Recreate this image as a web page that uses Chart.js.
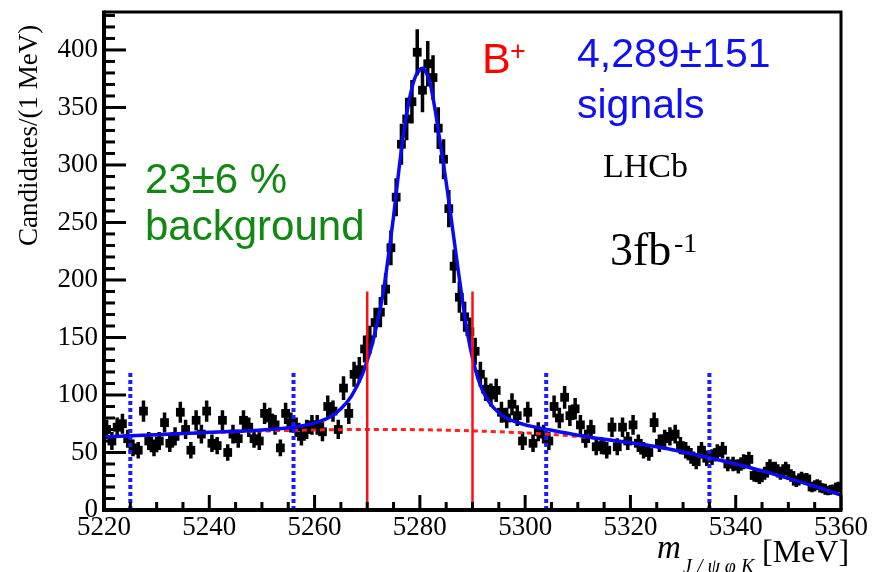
<!DOCTYPE html>
<html>
<head>
<meta charset="utf-8">
<script src="https://cdn.jsdelivr.net/npm/chart.js@4.4.1/dist/chart.umd.min.js"></script>
<style>
html,body{margin:0;padding:0;background:#fff;}
#wrap{width:873px;height:572px;position:relative;background:#fff;}
</style>
</head>
<body>
<div id="wrap"><canvas id="c" width="873" height="572"></canvas></div>
<script>
// ---- data ----
const massBins = [
5220.5,5221.5,5222.5,5223.5,5224.5,5225.5,5226.5,5227.5,5228.5,5229.5,
5230.5,5231.5,5232.5,5233.5,5234.5,5235.5,5236.5,5237.5,5238.5,5239.5,
5240.5,5241.5,5242.5,5243.5,5244.5,5245.5,5246.5,5247.5,5248.5,5249.5,
5250.5,5251.5,5252.5,5253.5,5254.5,5255.5,5256.5,5257.5,5258.5,5259.5,
5260.5,5261.5,5262.5,5263.5,5264.5,5265.5,5266.5,5267.5,5268.5,5269.5,
5270.5,5271.5,5272.5,5273.5,5274.5,5275.5,5276.5,5277.5,5278.5,5279.5,
5280.5,5281.5,5282.5,5283.5,5284.5,5285.5,5286.5,5287.5,5288.5,5289.5,
5290.5,5291.5,5292.5,5293.5,5294.5,5295.5,5296.5,5297.5,5298.5,5299.5,
5300.5,5301.5,5302.5,5303.5,5304.5,5305.5,5306.5,5307.5,5308.5,5309.5,
5310.5,5311.5,5312.5,5313.5,5314.5,5315.5,5316.5,5317.5,5318.5,5319.5,
5320.5,5321.5,5322.5,5323.5,5324.5,5325.5,5326.5,5327.5,5328.5,5329.5,
5330.5,5331.5,5332.5,5333.5,5334.5,5335.5,5336.5,5337.5,5338.5,5339.5,
5340.5,5341.5,5342.5,5343.5,5344.5,5345.5,5346.5,5347.5,5348.5,5349.5,
5350.5,5351.5,5352.5,5353.5,5354.5,5355.5,5356.5,5357.5,5358.5,5359.5];
const counts = [
70,60,72,75,62,54,52,86,60,54,
60,76,58,64,85,70,52,78,66,86,
58,56,78,50,66,62,78,72,62,60,
84,80,74,54,84,76,72,64,70,74,
74,68,90,86,70,106,84,118,122,140,
148,163,172,192,228,272,318,340,355,398,
365,388,376,332,305,262,212,185,168,155,
138,118,105,100,104,85,80,92,82,60,
85,58,68,66,60,90,80,98,82,88,
74,62,70,55,56,52,72,55,72,60,
74,58,52,50,76,58,62,64,66,56,
52,47,42,52,45,46,50,52,40,40,
38,42,44,30,28,32,38,36,32,36,
30,25,28,27,20,22,19,17,18,20];
const fitMass = [5220,5225,5230,5235,5240,5245,5250,5255,5258,5261,5263,5265,5267,5269,5270,5271,5272,5273,5274,5275,5276,5277,5278,5279,5280,5280.5,5281,5282,5283,5284,5285,5286,5287,5288,5289,5290,5291,5292,5293,5294,5296,5298,5300,5303,5306,5310,5315,5320,5325,5330,5335,5340,5345,5350,5355,5360];
const fitTotal = [63.5,64.5,65.5,66.5,67.5,68.5,69.5,71.5,73.5,77,81,88,99,117,130,145,165,188,220,255,295,330,357,375,383,384,382,370,345,315,285,252,218,185,155,132,115,103,95,89,81,77,74,71,68.5,65,61.5,58.5,55,50.5,45.5,40,34,27.5,20.5,13];
const bkgMass = [5220,5230,5240,5250,5260,5270,5280,5290,5300,5310,5315,5320,5325,5330,5335,5340,5345,5350,5355,5360];
const bkgFit = [63.5,65.5,67.3,68.7,69.6,70,69.8,68.8,67,64,61.5,58.5,55,50.5,45.5,40,34,27.5,20.5,13];
const sidebandEdges = [5225,5256,5304,5335];
const sidebandTop = 120;
const signalEdges = [5270,5290];
const signalTop = 190;
const xTicks = [5220,5240,5260,5280,5300,5320,5340,5360];
const yTicks = [0,50,100,150,200,250,300,350,400];

// ---- derived point lists ----
const markerData = massBins.map((m,i)=>({x:m,y:counts[i]}));
const errData = [];
massBins.forEach((m,i)=>{const e=Math.sqrt(counts[i]);errData.push({x:m,y:counts[i]-e},{x:m,y:counts[i]+e},{x:m,y:null});});
const fitData = fitMass.map((m,i)=>({x:m,y:fitTotal[i]}));
const bkgData = bkgMass.map((m,i)=>({x:m,y:bkgFit[i]}));
const vlines = (edges, top)=>{const d=[];edges.forEach(e=>{d.push({x:e,y:0},{x:e,y:top},{x:e,y:null});});return d;};

const SERIF = '"Liberation Serif", "Times New Roman", serif';
const SANS = '"Liberation Sans", Arial, sans-serif';

const framePlugin = {
  id:'frame',
  afterDatasetsDraw(chart){
    const {ctx, chartArea:a, scales:{x,y}} = chart;
    ctx.save();
    ctx.strokeStyle='#000';
    ctx.lineCap='butt';
    ctx.lineWidth=3;
    for(let v=0; v<=y.max; v+=10){
      const py=y.getPixelForValue(v);
      const len = (v%50===0)?22:11;
      ctx.beginPath();ctx.moveTo(a.left,py);ctx.lineTo(a.left+len,py);ctx.stroke();
    }
    for(let v=x.min; v<=x.max; v+=5){
      const px=x.getPixelForValue(v);
      const len = ((v-x.min)%20===0)?15:8;
      ctx.beginPath();ctx.moveTo(px,a.bottom);ctx.lineTo(px,a.bottom-len);ctx.stroke();
    }
    ctx.lineWidth=3;
    ctx.beginPath();ctx.moveTo(a.left,a.top);ctx.lineTo(a.right,a.top);ctx.lineTo(a.right,a.bottom);ctx.stroke();
    ctx.lineWidth=4;
    ctx.beginPath();ctx.moveTo(a.left,a.top-1.5);ctx.lineTo(a.left,a.bottom);ctx.lineTo(a.right+1.5,a.bottom);ctx.stroke();
    ctx.restore();
  }
};

const textPlugin = {
  id:'texts',
  afterDraw(chart){
    const ctx=chart.ctx;
    ctx.save();
    ctx.textBaseline='alphabetic';
    ctx.textAlign='left';
    const t=(s,x,y,font,color)=>{ctx.font=font;ctx.fillStyle=color;ctx.fillText(s,x,y);};
    t('23±6 %',145,193,'42px '+SANS,'#118811');
    t('background',145,240,'42px '+SANS,'#118811');
    t('B',482,73,'43px '+SANS,'#ff0000');
    t('+',510,60,'27px '+SANS,'#ff0000');
    t('4,289±151',577,67,'41px '+SANS,'#1010f0');
    t('signals',577,118,'41px '+SANS,'#1010f0');
    t('LHCb',603,177,'34px '+SERIF,'#000');
    t('3fb',610,265,'46px '+SERIF,'#000');
    t('-1',674,252,'28px '+SERIF,'#000');
    // x axis title
    t('m',657,558,'italic 33px '+SERIF,'#000');
    t('J / ψ φ K',683,573,'italic 20px '+SERIF,'#000');
    t('[MeV]',762,562,'32px '+SERIF,'#000');
    // y axis title
    ctx.translate(30,246);
    ctx.rotate(-Math.PI/2);
    ctx.textBaseline='middle';
    t('Candidates/(1 MeV)',0,0,'27px '+SERIF,'#000');
    ctx.restore();
  }
};

new Chart(document.getElementById('c'),{
  type:'line',
  data:{datasets:[
    {label:'sidebands',data:vlines(sidebandEdges,sidebandTop),borderColor:'#1a1aff',borderWidth:4,borderDash:[4,3],pointRadius:0,spanGaps:false,order:0},
    {label:'signal window',data:vlines(signalEdges,signalTop),borderColor:'#ff1010',borderWidth:2.5,pointRadius:0,spanGaps:false,order:1},
    {label:'total fit',data:fitData,borderColor:'#0a0af0',borderWidth:3.5,pointRadius:0,cubicInterpolationMode:'monotone',order:2},
    {label:'background',data:bkgData,borderColor:'#ff2020',borderWidth:3,borderDash:[5,4],pointRadius:0,cubicInterpolationMode:'monotone',order:3},
    {label:'data',data:markerData,showLine:false,pointStyle:'rect',pointRadius:6.2,pointBackgroundColor:'#000',pointBorderWidth:0,order:4},
    {label:'errors',data:errData,borderColor:'#000',borderWidth:3.5,pointRadius:0,spanGaps:false,order:5}
  ]},
  options:{
    responsive:false,
    animation:false,
    devicePixelRatio:1,
    layout:{padding:{top:12,right:32,left:0,bottom:0}},
    plugins:{legend:{display:false},tooltip:{enabled:false}},
    scales:{
      x:{type:'linear',min:5220,max:5360,
        grid:{display:false,drawTicks:false},border:{display:false},
        ticks:{autoSkip:false,maxRotation:0,padding:2,color:'#000',font:{family:SERIF,size:27},callback:(v)=>String(v)},
        afterBuildTicks:(s)=>{s.ticks=xTicks.map(v=>({value:v}));},
        afterFit:(s)=>{s.height=62;s.paddingLeft=0;s.paddingRight=0;}
      },
      y:{type:'linear',min:0,max:433,
        grid:{display:false,drawTicks:false},border:{display:false},
        ticks:{includeBounds:false,padding:6,color:'#000',font:{family:SERIF,size:27},callback:(v)=>String(v)},
        afterBuildTicks:(s)=>{s.ticks=yTicks.map(v=>({value:v}));},
        afterFit:(s)=>{s.width=104;s.paddingTop=0;s.paddingBottom=0;}
      }
    }
  },
  plugins:[framePlugin,textPlugin]
});
</script>
</body>
</html>
